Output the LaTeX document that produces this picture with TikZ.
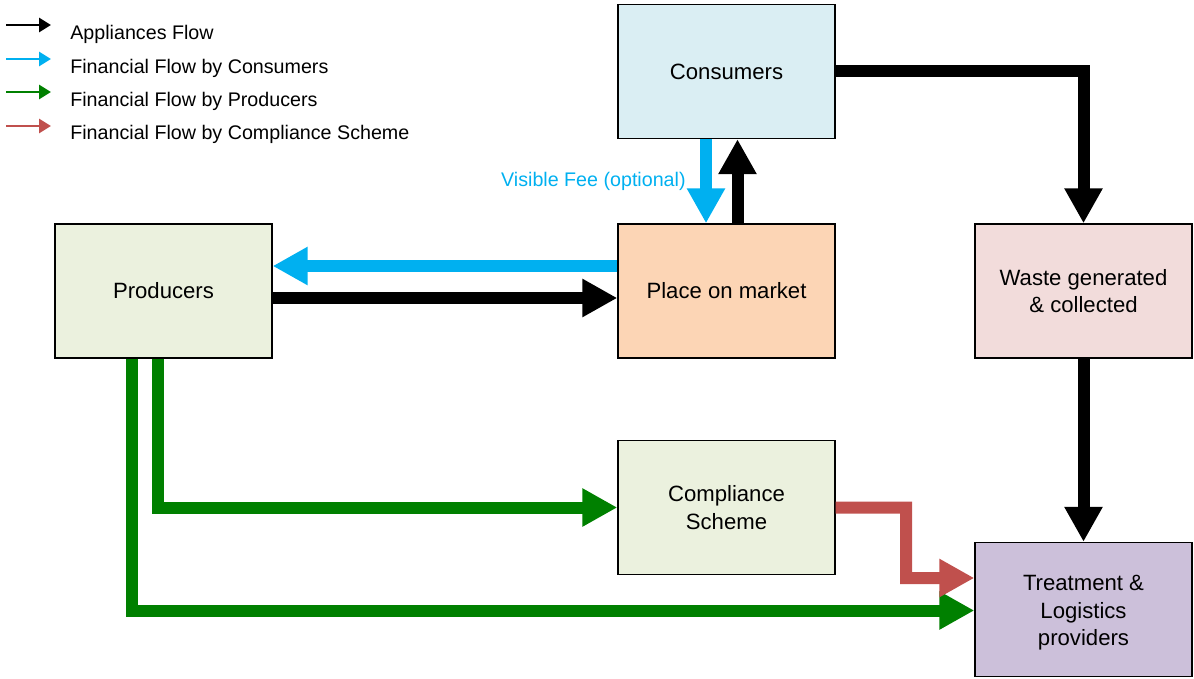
\documentclass[tikz,border=0pt]{standalone}
\usepackage{fontspec}
\setmainfont{Liberation Sans}
\usetikzlibrary{arrows.meta}
\definecolor{feeblue}{HTML}{00B0F0}
\definecolor{prodgreen}{HTML}{008000}
\definecolor{schemered}{HTML}{C0504D}
\definecolor{consfill}{HTML}{DAEEF3}
\definecolor{marketfill}{HTML}{FCD5B5}
\definecolor{prodfill}{HTML}{EBF1DE}
\definecolor{wastefill}{HTML}{F2DCDB}
\definecolor{treatfill}{HTML}{CCC0DA}
\tikzset{
  block/.style={draw, line width=0.8pt, minimum width=4.34cm, minimum height=2.68cm, inner sep=0pt, align=center, font=\fontsize{12.6}{15.5}\selectfont},
  flow/.style={line width=0.24cm, -{Triangle[width=0.72cm,length=0.7cm]}},
  keyarrow/.style={line width=1.6pt, -{Triangle[width=0.28cm,length=0.24cm]}},
  keytext/.style={anchor=west, inner sep=0pt, font=\fontsize{11.2}{13}\selectfont},
}
\begin{document}
\begin{tikzpicture}[x=0.02cm, y=-0.02cm]
\useasboundingbox (0,0) rectangle (1194,679);
% legend
\coordinate (k1a) at (6,25); \coordinate (k1b) at (51,25);
\draw[keyarrow, black] (k1a) -- (k1b);
\node[keytext] (k1) at (70,34) {Appliances Flow};
\coordinate (k2a) at (6,59); \coordinate (k2b) at (51,59);
\draw[keyarrow, feeblue] (k2a) -- (k2b);
\node[keytext] (k2) at (70,68) {Financial Flow by Consumers};
\coordinate (k3a) at (6,92); \coordinate (k3b) at (51,92);
\draw[keyarrow, prodgreen] (k3a) -- (k3b);
\node[keytext] (k3) at (70,101) {Financial Flow by Producers};
\coordinate (k4a) at (6,126); \coordinate (k4b) at (51,126);
\draw[keyarrow, schemered] (k4a) -- (k4b);
\node[keytext] (k4) at (70,134) {Financial Flow by Compliance Scheme};
% boxes
\node[block, fill=consfill] (cons) at (726.5,71.5) {Consumers};
\node[block, fill=marketfill] (market) at (726.5,291) {Place on market};
\node[block, fill=prodfill] (prod) at (163.5,291) {Producers};
\node[block, fill=wastefill] (waste) at (1083.5,291) {Waste generated\\ \& collected};
\node[block, fill=prodfill] (scheme) at (726.5,507.5) {Compliance\\ Scheme};
\node[block, fill=treatfill] (treat) at (1083.5,609.5) {\rule{0pt}{12.5pt}Treatment \&\\ Logistics\\ providers};
% flows
\draw[flow, black] (cons.east) -- (cons.east -| waste) -- (waste.north);
\draw[flow, black] (waste.south) -- (treat.north);
\draw[flow, black] ([xshift=0.22cm]market.north) -- ([xshift=0.22cm]cons.south);
\draw[flow, feeblue] ([xshift=-0.41cm]cons.south) -- ([xshift=-0.41cm]market.north)
  node[midway, left=0.17cm, text=feeblue, font=\fontsize{11.2}{13}\selectfont] (fee) {Visible Fee (optional)};
\draw[flow, feeblue] ([yshift=0.5cm]market.west) -- ([yshift=0.5cm]prod.east);
\draw[flow, black] ([yshift=-0.14cm]prod.east) -- ([yshift=-0.14cm]market.west);
\draw[flow, prodgreen] ([xshift=-0.12cm]prod.south) |- (scheme.west);
\draw[flow, prodgreen] ([xshift=-0.63cm]prod.south) |- ([yshift=-0.02cm]treat.west);
\coordinate (rbend) at (906,578);
\draw[flow, schemered] (scheme.east) -| (rbend) -- ([yshift=0.63cm]treat.west);
\end{tikzpicture}
\end{document}
